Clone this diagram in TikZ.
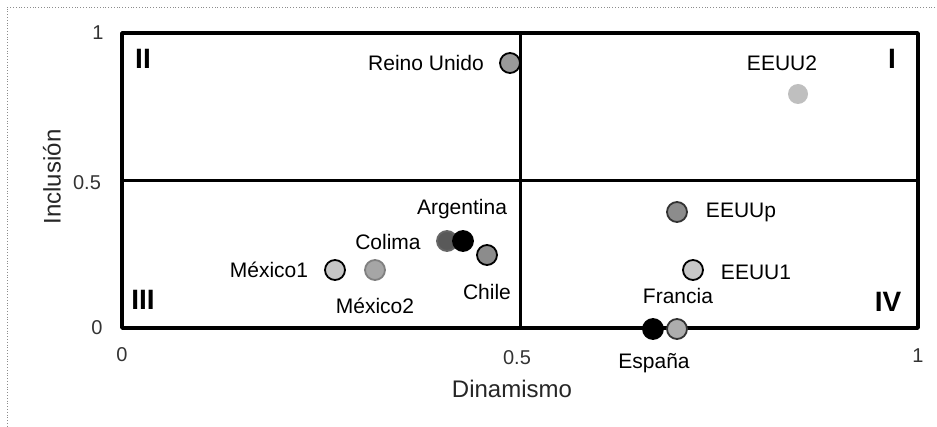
\documentclass[tikz,border=0pt]{standalone}
\usepackage{fontspec}
\setmainfont{Liberation Sans}
\begin{document}
\begin{tikzpicture}[x=1pt,y=-1pt,
  dot/.style={circle,inner sep=0pt,minimum size=20pt,line width=1.8pt},
  lab/.style={inner sep=0pt,font=\fontsize{21}{24}\selectfont},
  tick/.style={inner sep=0pt,text=black!80,font=\fontsize{20}{24}\selectfont},
  quad/.style={inner sep=0pt,font=\fontsize{28}{32}\selectfont\bfseries},
  axtitle/.style={inner sep=0pt,text=black!85,font=\fontsize{24}{28}\selectfont},
  frame/.style={line width=3.5pt},
  mid/.style={line width=3pt},
  scan/.style={black!45,line width=0.8pt,dotted}]
\useasboundingbox (0,0) rectangle (937,427);
% scan border
\coordinate (tl) at (7,7);
\coordinate (tr) at (935,7);
\coordinate (bl) at (7,427);
\draw[scan] (tr) -- (tl) -- (bl);
% frame
\coordinate (f1) at (122,33);
\coordinate (f2) at (918,328);
\coordinate (mt) at (520,33);
\coordinate (mb) at (520,328);
\coordinate (ml) at (122,180.5);
\coordinate (mr) at (918,180.5);
\draw[mid] (mt) -- (mb);
\draw[mid] (ml) -- (mr);
\draw[frame,line join=round] (f1) rectangle (f2);
% ticks
\node[tick] (y1) at (98,33) {1};
\node[tick] (y05) at (87,183) {0.5};
\node[tick] (y0) at (97,328) {0};
\node[tick] (x0) at (122,355) {0};
\node[tick] (x05) at (517,358) {0.5};
\node[tick] (x1) at (918,356) {1};
\node[axtitle] (xt) at (512,389) {Dinamismo};
\node[axtitle,rotate=90] (yt) at (52,177) {Inclusión};
% quadrants
\node[quad] (q1) at (892,59) {I};
\node[quad] (q2) at (143,59) {II};
\node[quad] (q3) at (143,300) {III};
\node[quad] (q4) at (888,302) {IV};
% points
\node[dot,draw=black,fill=black!40] (ru) at (510,63) {};
\node[dot,fill=black!25] (eeuu2) at (798,94) {};
\node[dot,draw=black!80,fill=black!45] (eeuup) at (677,212) {};
\node[dot,draw=black,fill=black!22] (eeuu1) at (693,270) {};
\node[dot,draw=black,fill=black] (esp) at (653,329) {};
\node[dot,draw=black!80,fill=black!32] (fra) at (677,329) {};
\node[dot,draw=black!60,fill=black!65] (col) at (447,241) {};
\node[dot,draw=black,fill=black] (arg) at (463,241) {};
\node[dot,draw=black,fill=black!45] (chi) at (487,255) {};
\node[dot,draw=black,fill=black!22] (mex1) at (335,270) {};
\node[dot,draw=black!50,fill=black!35] (mex2) at (375,270) {};
% labels
\node[lab,anchor=east] (lru) at (484,63) {Reino Unido};
\node[lab] (leeuu2) at (782,63) {EEUU2};
\node[lab] (leeuup) at (741,212) {EEUUp};
\node[lab] (leeuu1) at (756,272) {EEUU1};
\node[lab] (lfra) at (678,296) {Francia};
\node[lab] (lesp) at (654,363) {España};
\node[lab] (larg) at (462,209) {Argentina};
\node[lab] (lcol) at (388,242) {Colima};
\node[lab] (lchi) at (487,292) {Chile};
\node[lab] (lmex1) at (269,270) {México1};
\node[lab] (lmex2) at (375,306) {México2};
\end{tikzpicture}
\end{document}
